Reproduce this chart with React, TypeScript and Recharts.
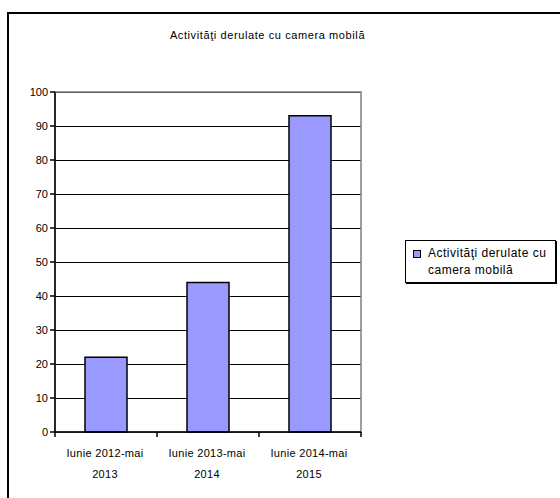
import React from "react";
import {
  BarChart,
  Bar,
  XAxis,
  YAxis,
  CartesianGrid,
  ReferenceArea,
} from "recharts";

// categorii (două rânduri pe axa X)
const categoriiRand1 = ["Iunie 2012-mai", "Iunie 2013-mai", "Iunie 2014-mai"];
const categoriiRand2 = ["2013", "2014", "2015"];
const valori = [22, 44, 93];
const yTicks = [0, 10, 20, 30, 40, 50, 60, 70, 80, 90, 100];

const TITLU = "Activităţi derulate cu camera mobilă";
const SERIE = "Activităţi derulate cu camera mobilă";

const FONT = '"Liberation Sans", Arial, sans-serif';

const W = 380;
const H = 498;
const MARGINE = { top: 92, right: 19, left: 0, bottom: 16 };
const Y_LATIME = 55;
const X_INALTIME = 50;
const PLOT_JOS = H - MARGINE.bottom - X_INALTIME;
const PLOT_LATIME = W - MARGINE.left - MARGINE.right - Y_LATIME;

const date = categoriiRand1.map((c, i) => ({
  nume: c,
  rand2: categoriiRand2[i],
  valoare: valori[i],
}));

function TickX(props: any) {
  const { x, payload, index } = props;
  const banda = PLOT_LATIME / date.length;
  const stanga = x - banda / 2;
  const dreapta = x + banda / 2;
  return (
    <g>
      <line x1={stanga} y1={PLOT_JOS} x2={stanga} y2={PLOT_JOS + 5} stroke="#000" strokeWidth={1.5} />
      {index === date.length - 1 && (
        <line x1={dreapta} y1={PLOT_JOS} x2={dreapta} y2={PLOT_JOS + 5} stroke="#000" strokeWidth={1.5} />
      )}
      <text x={x - 1} y={PLOT_JOS + 25} textAnchor="middle" fontSize={11} fill="#000" fontFamily={FONT} letterSpacing={0.3}>
        {payload.value}
      </text>
      <text x={x - 1} y={PLOT_JOS + 46} textAnchor="middle" fontSize={11} fill="#000" fontFamily={FONT} letterSpacing={0.3}>
        {date[index]?.rand2}
      </text>
    </g>
  );
}

export default function App() {
  return (
    <div
      style={{
        position: "absolute",
        left: 0,
        top: 0,
        width: 560,
        height: 498,
        overflow: "hidden",
        background: "#fff",
        fontFamily: FONT,
      }}
    >
      {/* cadrul exterior */}
      <div
        style={{
          position: "absolute",
          left: 7,
          top: 12,
          width: 600,
          height: 600,
          borderTop: "2px solid #000",
          borderLeft: "2px solid #000",
        }}
      />
      <div
        style={{
          position: "absolute",
          left: 0,
          width: 535,
          top: 29,
          textAlign: "center",
          fontSize: 11,
          letterSpacing: 0.6,
          color: "#000",
        }}
      >
        {TITLU}
      </div>

      <div style={{ position: "absolute", left: 0, top: 0 }}>
        <BarChart width={W} height={H} data={date} margin={MARGINE} barSize={42}>
          <CartesianGrid vertical={false} stroke="#000" strokeWidth={1} shapeRendering="crispEdges" />
          <ReferenceArea y1={0} y2={100} fill="none" stroke="#808080" strokeWidth={1.5} />
          <XAxis
            dataKey="nume"
            interval={0}
            height={X_INALTIME}
            tickLine={false}
            axisLine={{ stroke: "#000", strokeWidth: 1.5 }}
            tick={<TickX />}
          />
          <YAxis
            width={Y_LATIME}
            domain={[0, 100]}
            ticks={yTicks}
            interval={0}
            tickSize={5}
            tickLine={{ stroke: "#000", strokeWidth: 1.5 }}
            axisLine={{ stroke: "#000", strokeWidth: 1.5 }}
            tick={{ fontSize: 11, fill: "#000", fontFamily: FONT }}
          />
          <Bar
            dataKey="valoare"
            fill="#9999FF"
            stroke="#000"
            strokeWidth={1.5}
            isAnimationActive={false}
          />
        </BarChart>
      </div>

      {/* legenda */}
      <div
        style={{
          position: "absolute",
          left: 405,
          top: 240,
          width: 151,
          height: 43,
          boxSizing: "border-box",
          border: "1px solid #000",
          boxShadow: "1px 1px 0 #000",
          background: "#fff",
          fontSize: 12,
          letterSpacing: 0.5,
          lineHeight: "17px",
          paddingTop: 4,
          paddingLeft: 7,
        }}
      >
        <div style={{ display: "flex", alignItems: "flex-start" }}>
          <span
            style={{
              display: "inline-block",
              width: 6,
              height: 6,
              border: "1px solid #000",
              background: "#9999FF",
              marginTop: 5,
              marginRight: 7,
              flexShrink: 0,
            }}
          />
          <span>{SERIE}</span>
        </div>
      </div>
    </div>
  );
}
